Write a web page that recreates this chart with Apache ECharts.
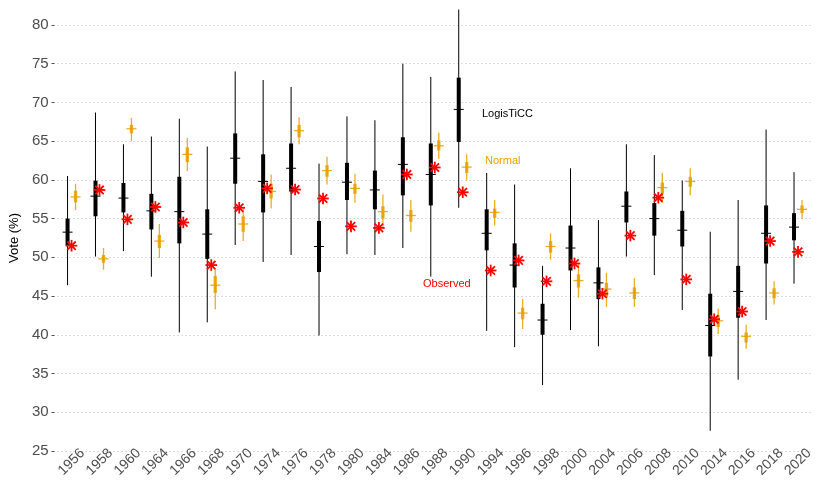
<!DOCTYPE html>
<html>
<head>
<meta charset="utf-8">
<script src="https://cdn.jsdelivr.net/npm/echarts@6/dist/echarts.min.js"></script>
<style>
  html, body { margin: 0; padding: 0; background: #ffffff; }
  #chart { width: 818px; height: 480px; }
</style>
</head>
<body>
<div id="chart"></div>
<script>
// ---- data ----
const years = ['1956','1958','1960','1964','1966','1968','1970','1974','1976','1978','1980','1984','1986','1988','1990','1994','1996','1998','2000','2004','2006','2008','2010','2014','2016','2018','2020'];

// LogisTiCC predictive intervals
const logisLo95 = [46.4,50.1,50.8,47.5,40.3,41.6,51.6,49.4,50.3,39.9,50.4,50.3,51.2,47.5,56.4,40.5,38.4,33.5,40.6,38.5,50.1,47.7,43.2,27.6,34.2,41.9,46.6];
const logisLo50 = [51.5,55.3,55.8,53.6,51.8,49.8,59.5,55.8,58.5,48.1,57.4,56.2,58.0,56.7,64.9,50.9,46.1,40.0,48.3,44.6,54.5,52.8,51.4,37.2,42.2,49.2,52.2];
const logisMed  = [53.25,57.9,57.65,56.0,55.9,53.0,62.8,59.8,61.5,51.4,59.7,58.7,62.0,60.7,69.1,53.1,49.0,41.9,51.2,46.7,56.6,55.0,53.5,41.2,45.6,53.1,53.9];
const logisHi50 = [55.0,59.9,59.6,58.2,60.4,56.2,66.0,63.3,64.7,54.7,62.2,61.2,65.5,64.7,73.2,56.2,51.8,44.0,54.1,48.7,58.5,57.0,56.0,45.3,48.9,56.7,55.7];
const logisHi95 = [60.5,68.7,64.6,65.6,67.9,64.3,74.0,72.9,72.0,62.1,68.2,67.7,75.0,73.3,82.0,60.9,59.4,48.9,61.5,54.8,64.6,63.2,59.9,53.3,57.4,66.5,61.0];

// Normal predictive intervals
const normalLo95 = [56.1,48.4,65.0,49.9,61.1,43.3,52.1,56.3,64.6,59.4,57.05,53.85,53.3,62.7,59.95,54.1,40.75,49.7,44.8,43.6,43.6,57.05,58.0,40.1,38.2,43.9,54.9];
const normalLo50 = [57.1,49.3,66.0,51.2,62.3,45.4,53.3,57.6,65.5,60.4,58.2,55.0,54.6,63.8,60.9,55.1,42.0,50.6,46.1,44.8,44.6,58.2,59.1,41.0,39.0,44.7,55.7];
const normalMean = [57.8,49.8,66.6,52.1,63.3,46.4,54.3,58.5,66.35,61.2,58.9,55.9,55.4,64.4,61.65,55.8,42.8,51.4,47.0,45.9,45.4,59.0,59.8,41.8,39.8,45.4,56.2];
const normalHi50 = [58.6,50.3,67.1,52.9,64.2,47.6,55.3,59.5,67.1,61.9,59.5,56.6,56.1,65.1,62.3,56.3,43.5,52.1,47.8,46.7,46.1,59.65,60.4,42.5,40.3,46.0,56.7];
const normalHi95 = [59.5,51.2,68.0,54.3,65.4,48.4,56.4,60.7,68.1,63.0,60.8,58.1,57.4,66.1,63.3,57.4,44.6,53.1,49.1,48.0,47.3,60.9,61.5,43.4,41.3,46.9,57.4];

// Observed vote
const observed = [51.5,58.7,54.9,56.5,54.5,49.0,56.4,58.9,58.75,57.6,54.0,53.8,60.7,61.6,58.4,48.3,49.6,46.9,49.2,45.3,52.8,57.7,47.15,42.0,43.0,52.1,50.7];

const yTicks = { min: 25, max: 80, interval: 5 };

// ---- build series data ----
const logisData = years.map((y, i) => [i, logisLo95[i], logisLo50[i], logisMed[i], logisHi50[i], logisHi95[i]]);
const normalData = years.map((y, i) => [i, normalLo95[i], normalLo50[i], normalMean[i], normalHi50[i], normalHi95[i]]);
const obsData = years.map((y, i) => [i, observed[i]]);

function intervalRenderer(dx, color, thin, thick, tickHalf, tickW, opacity) {
  return function (params, api) {
    const i = api.value(0);
    const a95 = api.coord([i, api.value(1)]);
    const a50 = api.coord([i, api.value(2)]);
    const mid = api.coord([i, api.value(3)]);
    const b50 = api.coord([i, api.value(4)]);
    const b95 = api.coord([i, api.value(5)]);
    const x = a95[0] + dx;
    return {
      type: 'group',
      children: [
        { type: 'line', shape: { x1: x, y1: a95[1], x2: x, y2: b95[1] },
          style: { stroke: color, lineWidth: thin, opacity: opacity } },
        { type: 'line', shape: { x1: x, y1: a50[1], x2: x, y2: b50[1] },
          style: { stroke: color, lineWidth: thick, opacity: opacity } },
        { type: 'line', shape: { x1: x - tickHalf, y1: mid[1], x2: x + tickHalf, y2: mid[1] },
          style: { stroke: color, lineWidth: tickW, opacity: opacity } }
      ]
    };
  };
}

function asteriskRenderer(params, api) {
  const p = api.coord([api.value(0), api.value(1)]);
  const x = p[0], y = p[1];
  const r = 5.8, d = 4.2;
  const st = { stroke: '#ff0000', lineWidth: 1.8 };
  return {
    type: 'group',
    children: [
      { type: 'line', shape: { x1: x - r, y1: y, x2: x + r, y2: y }, style: st },
      { type: 'line', shape: { x1: x, y1: y - r, x2: x, y2: y + r }, style: st },
      { type: 'line', shape: { x1: x - d, y1: y - d, x2: x + d, y2: y + d }, style: st },
      { type: 'line', shape: { x1: x - d, y1: y + d, x2: x + d, y2: y - d }, style: st }
    ]
  };
}

const chart = echarts.init(document.getElementById('chart'), null, { renderer: 'canvas' });

const font = 'Liberation Sans, Arial, Helvetica, sans-serif';

chart.setOption({
  backgroundColor: '#ffffff',
  animation: false,
  textStyle: { fontFamily: font },
  grid: { left: 54, right: 6, top: 25, bottom: 25, containLabel: false },
  xAxis: {
    type: 'category',
    data: years,
    boundaryGap: true,
    axisLine: { show: false },
    axisTick: { show: false },
    splitLine: { show: false },
    axisLabel: {
      rotate: 45,
      align: 'center',
      verticalAlign: 'middle',
      margin: 11,
      interval: 0,
      fontSize: 14,
      color: '#4d4d4d',
      fontFamily: font
    }
  },
  yAxis: {
    type: 'value',
    min: yTicks.min,
    max: yTicks.max,
    interval: yTicks.interval,
    offset: 3,
    name: 'Vote (%)',
    nameLocation: 'middle',
    nameGap: 27,
    nameTextStyle: { fontSize: 13, color: '#000000', fontFamily: font },
    axisLine: { show: false },
    axisTick: { show: true, length: 3, lineStyle: { color: '#4d4d4d', width: 1 } },
    axisLabel: { fontSize: 15, color: '#4d4d4d', margin: 6, fontFamily: font },
    splitLine: { show: true, lineStyle: { color: '#bdbdbd', width: 1, type: [1, 3] } }
  },
  series: [
    {
      name: 'LogisTiCC',
      type: 'custom',
      clip: false,
      renderItem: intervalRenderer(-4, '#000000', 1, 4, 5, 1, 1),
      encode: { x: 0, y: [1, 2, 3, 4, 5] },
      data: logisData,
      z: 2
    },
    {
      name: 'Normal',
      type: 'custom',
      clip: false,
      renderItem: intervalRenderer(4, '#E69F00', 1.3, 3.3, 5, 1.3, 0.85),
      encode: { x: 0, y: [1, 2, 3, 4, 5] },
      data: normalData,
      z: 3
    },
    {
      name: 'Observed',
      type: 'custom',
      clip: false,
      renderItem: asteriskRenderer,
      encode: { x: 0, y: 1 },
      data: obsData,
      z: 4
    }
  ],
  graphic: [
    { type: 'text', left: 482, top: 108, style: { text: 'LogisTiCC', fill: '#000000', font: '11px ' + font } },
    { type: 'text', left: 485, top: 155, style: { text: 'Normal', fill: '#E69F00', font: '11px ' + font } },
    { type: 'text', left: 423, top: 278, style: { text: 'Observed', fill: '#ff0000', font: '11px ' + font } }
  ]
});
</script>
</body>
</html>
